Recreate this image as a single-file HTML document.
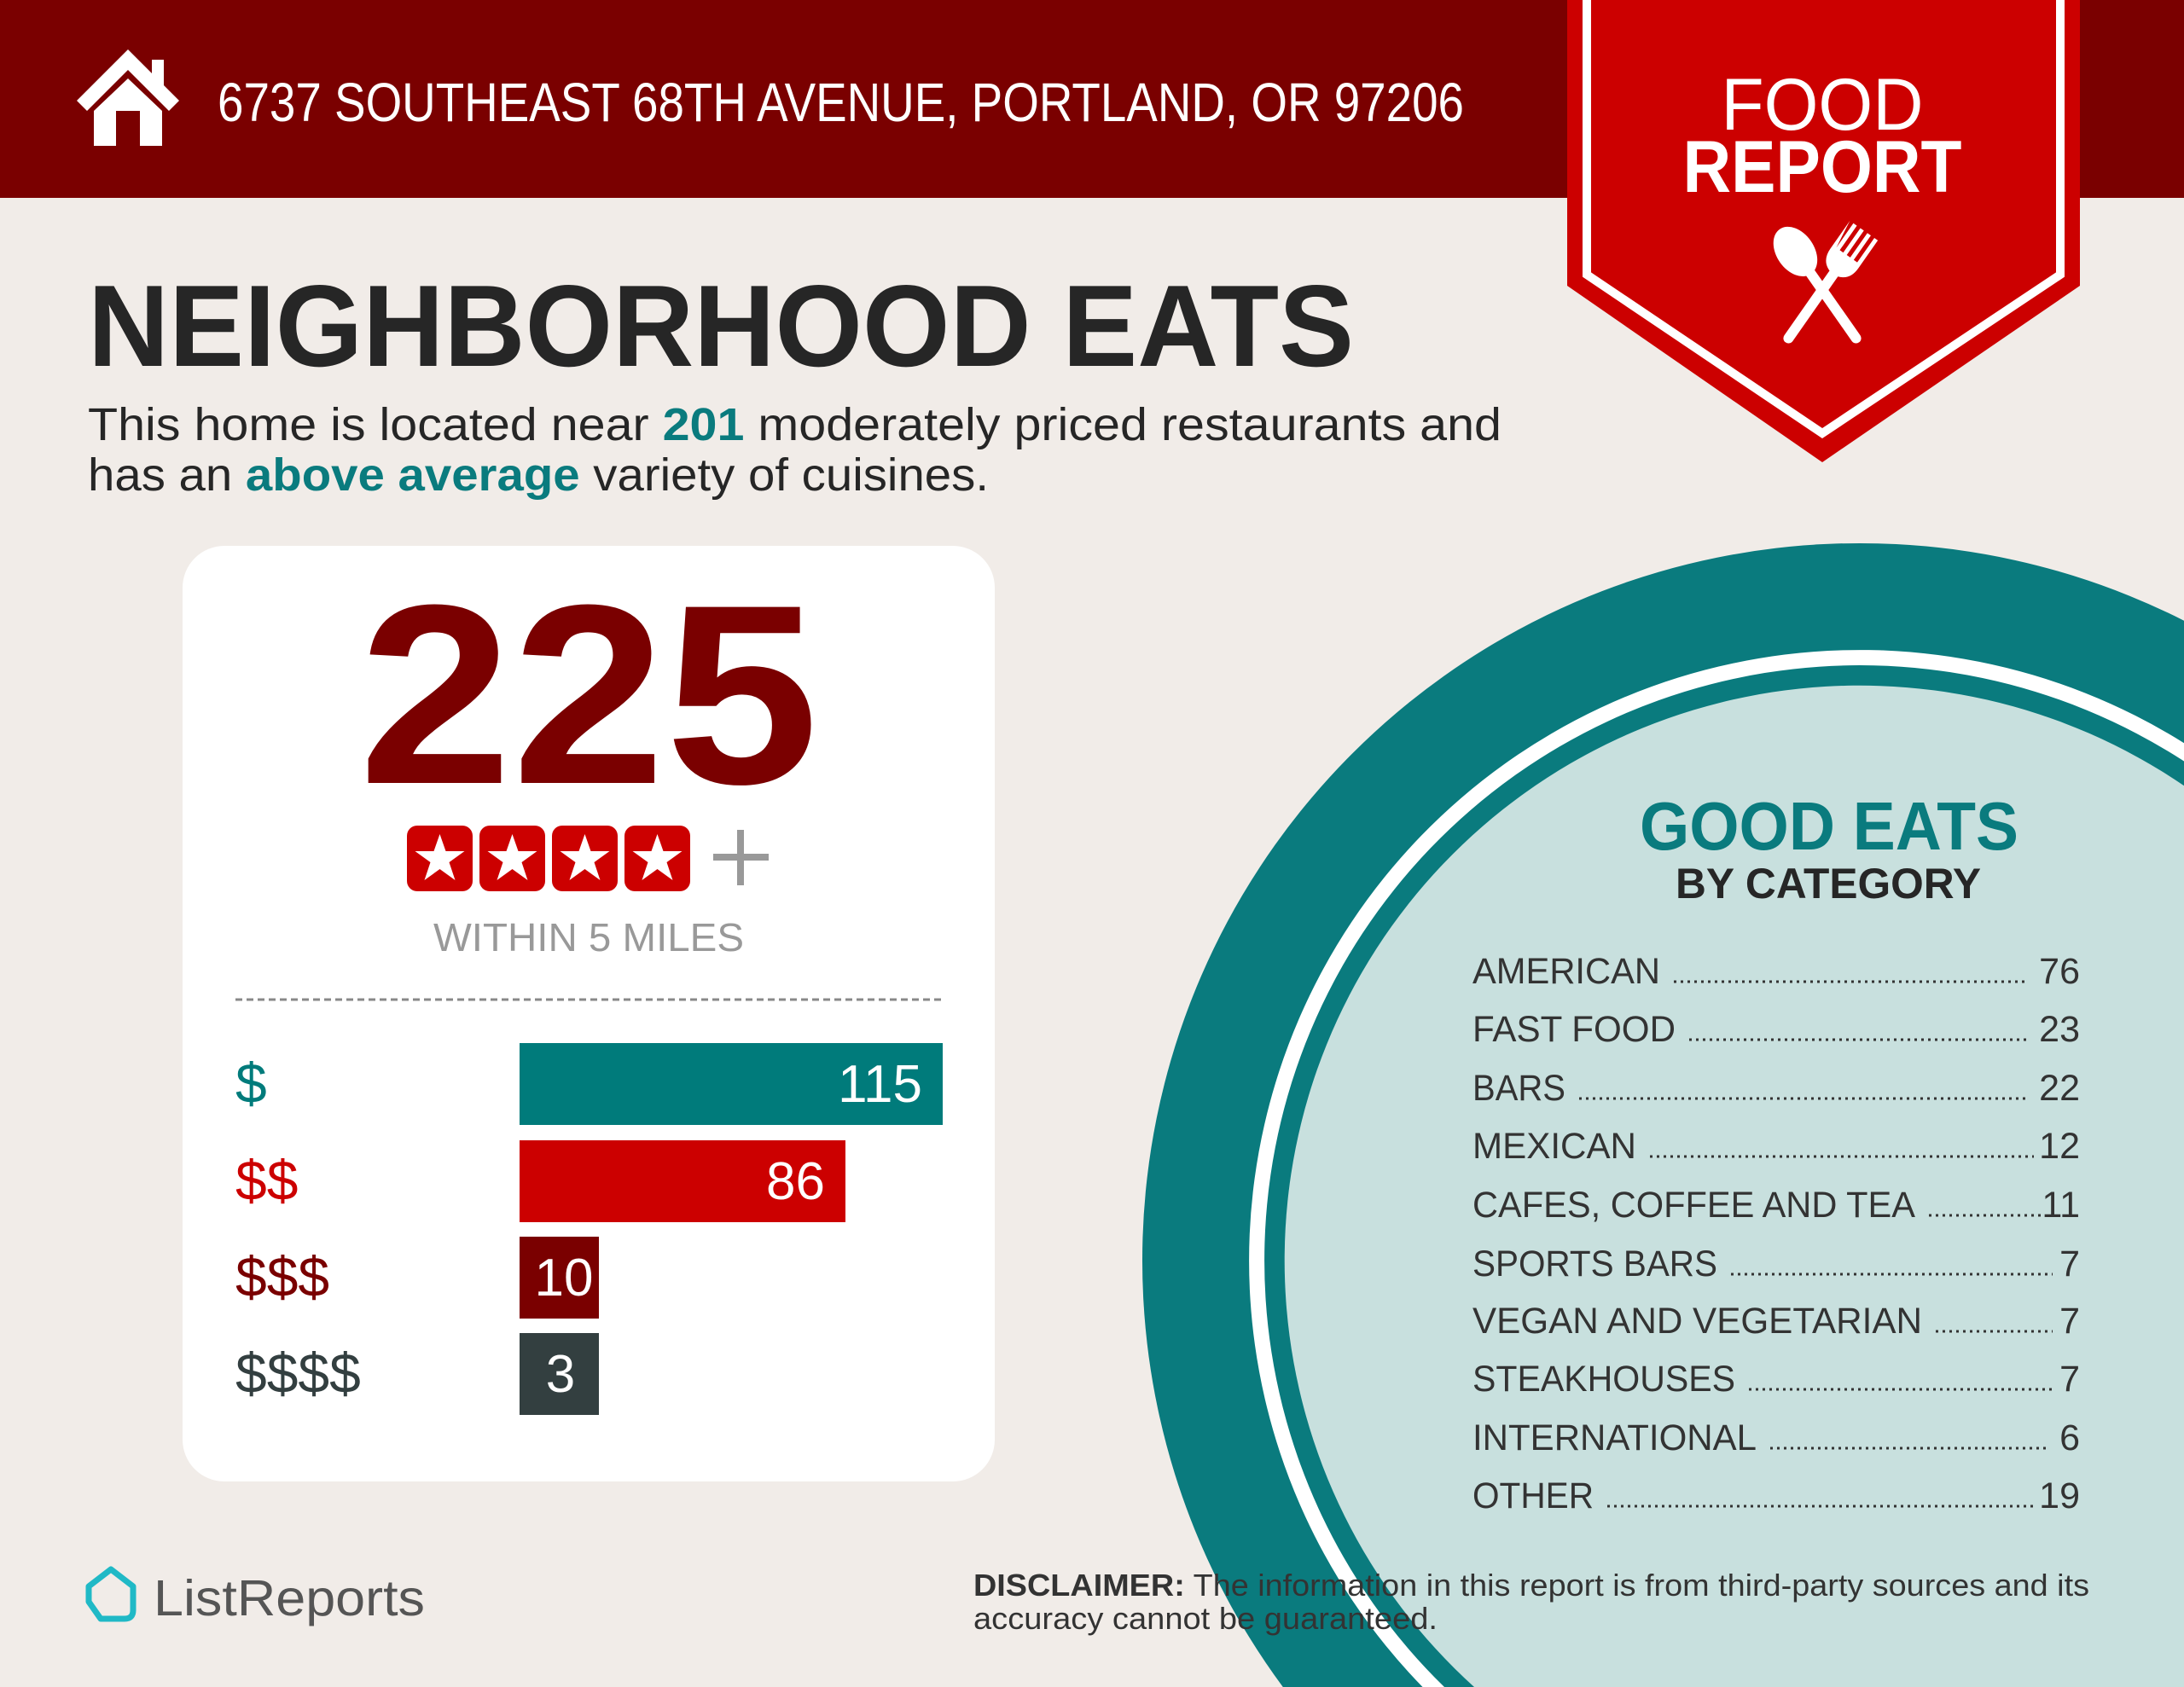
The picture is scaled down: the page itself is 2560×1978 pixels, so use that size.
<!DOCTYPE html>
<html><head><meta charset="utf-8"><style>
html,body{margin:0;padding:0;background:#f1ece8;width:2560px;height:1978px;overflow:hidden;}
svg{display:block;font-family:"Liberation Sans",sans-serif;}
</style></head><body>
<svg width="2560" height="1978" viewBox="0 0 2560 1978" xmlns="http://www.w3.org/2000/svg">
<rect width="2560" height="1978" fill="#f1ece8"/>
<rect width="2560" height="232" fill="#7a0000"/>
<g fill="#fff">
<polygon points="150,58 90,118 102,130 150,82 198,130 210,118 192,100 192,70 178,70 178,86"/>
<polygon points="150,92 110,130 110,171 136,171 136,130 164,130 164,171 190,171 190,130"/>
</g>
<text x="255" y="142" font-size="64" fill="#fff" textLength="1461" lengthAdjust="spacingAndGlyphs">6737 SOUTHEAST 68TH AVENUE, PORTLAND, OR 97206</text>
<polygon points="1837,0 2438,0 2438,335 2136,542 1837,335" fill="#cc0000"/>
<polyline points="1860,0 1860,322 2136,508 2415,322 2415,0" fill="none" stroke="#fff" stroke-width="10"/>
<text x="2136" y="152" font-size="86" fill="#fff" text-anchor="middle" textLength="237" lengthAdjust="spacingAndGlyphs">FOOD</text>
<text x="2136" y="225" font-size="86" font-weight="bold" fill="#fff" text-anchor="middle" textLength="327" lengthAdjust="spacingAndGlyphs">REPORT</text>
<g fill="#fff">
<g transform="translate(2136,340) rotate(-35)">
<ellipse cx="0" cy="-55" rx="22" ry="32"/>
<rect x="-6" y="-30" width="12" height="105" rx="6"/>
</g>
<g transform="translate(2136,340) rotate(35)">
<rect x="-6" y="-30" width="12" height="105" rx="6"/>
<path d="M-20,-85 L-20,-45 Q-20,-25 0,-22 Q20,-25 20,-45 L20,-85 L15,-85 L15,-50 L10,-50 L10,-85 L5,-85 L5,-50 L0,-50 L0,-85 L-5,-85 L-5,-50 L-10,-50 L-10,-85 L-15,-85 L-15,-50 Z"/>
</g>
</g>
<text x="103" y="429" font-size="136" font-weight="bold" fill="#262626" textLength="1484" lengthAdjust="spacingAndGlyphs">NEIGHBORHOOD EATS</text>
<text x="103" y="516" font-size="54" fill="#262626" textLength="1657" lengthAdjust="spacingAndGlyphs">This home is located near <tspan fill="#0a7b7e" font-weight="bold">201</tspan> moderately priced restaurants and</text>
<text x="103" y="575" font-size="54" fill="#262626" textLength="1056" lengthAdjust="spacingAndGlyphs">has an <tspan fill="#0a7b7e" font-weight="bold">above average</tspan> variety of cuisines.</text>
<path d="M2560,727.7 A841,841 0 0 0 1503.8,1978 L2560,1978 Z" fill="#0a7b7e"/>
<path d="M2560,871.2 A716,716 0 0 0 1667.5,1978 L2560,1978 Z" fill="#fff"/>
<path d="M2560,892.5 A698,698 0 0 0 1693,1978 L2560,1978 Z" fill="#0a7b7e"/>
<path d="M2560,921.3 A674,674 0 0 0 1728,1978 L2560,1978 Z" fill="#c8e0de"/>
<text x="2144" y="996" font-size="80" font-weight="bold" fill="#0a7b7e" text-anchor="middle" textLength="444" lengthAdjust="spacingAndGlyphs">GOOD EATS</text>
<text x="2143" y="1053" font-size="50" font-weight="bold" fill="#262626" text-anchor="middle" textLength="358" lengthAdjust="spacingAndGlyphs">BY CATEGORY</text>
<g font-size="43" fill="#333">
<text x="1726" y="1153" textLength="220" lengthAdjust="spacingAndGlyphs">AMERICAN</text><text x="2438" y="1153" text-anchor="end">76</text>
<text x="1726" y="1221" textLength="238" lengthAdjust="spacingAndGlyphs">FAST FOOD</text><text x="2438" y="1221" text-anchor="end">23</text>
<text x="1726" y="1290" textLength="109" lengthAdjust="spacingAndGlyphs">BARS</text><text x="2438" y="1290" text-anchor="end">22</text>
<text x="1726" y="1358" textLength="192" lengthAdjust="spacingAndGlyphs">MEXICAN</text><text x="2438" y="1358" text-anchor="end">12</text>
<text x="1726" y="1427" textLength="519" lengthAdjust="spacingAndGlyphs">CAFES, COFFEE AND TEA</text><text x="2438" y="1427" text-anchor="end">11</text>
<text x="1726" y="1496" textLength="287" lengthAdjust="spacingAndGlyphs">SPORTS BARS</text><text x="2438" y="1496" text-anchor="end">7</text>
<text x="1726" y="1563" textLength="527" lengthAdjust="spacingAndGlyphs">VEGAN AND VEGETARIAN</text><text x="2438" y="1563" text-anchor="end">7</text>
<text x="1726" y="1631" textLength="308" lengthAdjust="spacingAndGlyphs">STEAKHOUSES</text><text x="2438" y="1631" text-anchor="end">7</text>
<text x="1726" y="1700" textLength="333" lengthAdjust="spacingAndGlyphs">INTERNATIONAL</text><text x="2438" y="1700" text-anchor="end">6</text>
<text x="1726" y="1768" textLength="142" lengthAdjust="spacingAndGlyphs">OTHER</text><text x="2438" y="1768" text-anchor="end">19</text>
</g>
<g stroke="#333" stroke-width="3" stroke-dasharray="3 5">
<line x1="1962" y1="1151" x2="2378" y2="1151"/>
<line x1="1980" y1="1219" x2="2376" y2="1219"/>
<line x1="1851" y1="1288" x2="2376" y2="1288"/>
<line x1="1934" y1="1356" x2="2384" y2="1356"/>
<line x1="2261" y1="1425" x2="2392" y2="1425"/>
<line x1="2029" y1="1494" x2="2406" y2="1494"/>
<line x1="2269" y1="1561" x2="2406" y2="1561"/>
<line x1="2050" y1="1629" x2="2406" y2="1629"/>
<line x1="2075" y1="1698" x2="2398" y2="1698"/>
<line x1="1884" y1="1766" x2="2384" y2="1766"/>
</g>
<rect x="214" y="640" width="952" height="1097" rx="49" fill="#fff"/>
<text x="690" y="918" font-size="300" font-weight="bold" fill="#7a0000" text-anchor="middle" textLength="539" lengthAdjust="spacingAndGlyphs">225</text>
<g>
<rect x="477" y="968" width="77" height="77" rx="12" fill="#cc0000"/>
<rect x="562" y="968" width="77" height="77" rx="12" fill="#cc0000"/>
<rect x="647" y="968" width="77" height="77" rx="12" fill="#cc0000"/>
<rect x="732" y="968" width="77" height="77" rx="12" fill="#cc0000"/>
<g fill="#fff">
<polygon transform="translate(515.5,1008)" points="0,-30 7,-10 29,-10 11,3 18,24 0,11 -18,24 -11,3 -29,-10 -7,-10"/>
<polygon transform="translate(600.5,1008)" points="0,-30 7,-10 29,-10 11,3 18,24 0,11 -18,24 -11,3 -29,-10 -7,-10"/>
<polygon transform="translate(685.5,1008)" points="0,-30 7,-10 29,-10 11,3 18,24 0,11 -18,24 -11,3 -29,-10 -7,-10"/>
<polygon transform="translate(770.5,1008)" points="0,-30 7,-10 29,-10 11,3 18,24 0,11 -18,24 -11,3 -29,-10 -7,-10"/>
</g>
<rect x="836" y="1001" width="65" height="8" fill="#999"/>
<rect x="864" y="973" width="8" height="65" fill="#999"/>
</g>
<text x="690" y="1115" font-size="46" fill="#999" text-anchor="middle" textLength="364" lengthAdjust="spacingAndGlyphs">WITHIN 5 MILES</text>
<line x1="276" y1="1172" x2="1105" y2="1172" stroke="#888" stroke-width="3" stroke-dasharray="8 5"/>
<rect x="609" y="1223" width="496" height="96" fill="#007b7b"/>
<rect x="609" y="1337" width="382" height="96" fill="#cc0000"/>
<rect x="609" y="1450" width="93" height="96" fill="#7a0000"/>
<rect x="609" y="1563" width="93" height="96" fill="#333f40"/>
<g font-size="66">
<text x="276" y="1293" fill="#007b7b">$</text>
<text x="276" y="1407" fill="#cc0000">$$</text>
<text x="276" y="1520" fill="#7a0000">$$$</text>
<text x="276" y="1633" fill="#333f40">$$$$</text>
</g>
<g font-size="62" fill="#fff">
<text x="1081" y="1292" text-anchor="end">115</text>
<text x="967" y="1406" text-anchor="end">86</text>
<text x="661" y="1519" text-anchor="middle">10</text>
<text x="657" y="1632" text-anchor="middle">3</text>
</g>
<path d="M104,1878 L104,1860 L130,1840 L156,1860 L156,1888 Q156,1898 146,1898 L118,1898 Z" fill="none" stroke="#20b9c6" stroke-width="7" stroke-linejoin="round"/>
<text x="180" y="1894" font-size="59" fill="#555" textLength="318" lengthAdjust="spacingAndGlyphs">ListReports</text>
<text x="1141" y="1871" font-size="36" fill="#333" textLength="1308" lengthAdjust="spacingAndGlyphs"><tspan font-weight="bold">DISCLAIMER:</tspan> The information in this report is from third-party sources and its</text>
<text x="1141" y="1910" font-size="36" fill="#333" textLength="544" lengthAdjust="spacingAndGlyphs">accuracy cannot be guaranteed.</text>
</svg>
</body></html>
